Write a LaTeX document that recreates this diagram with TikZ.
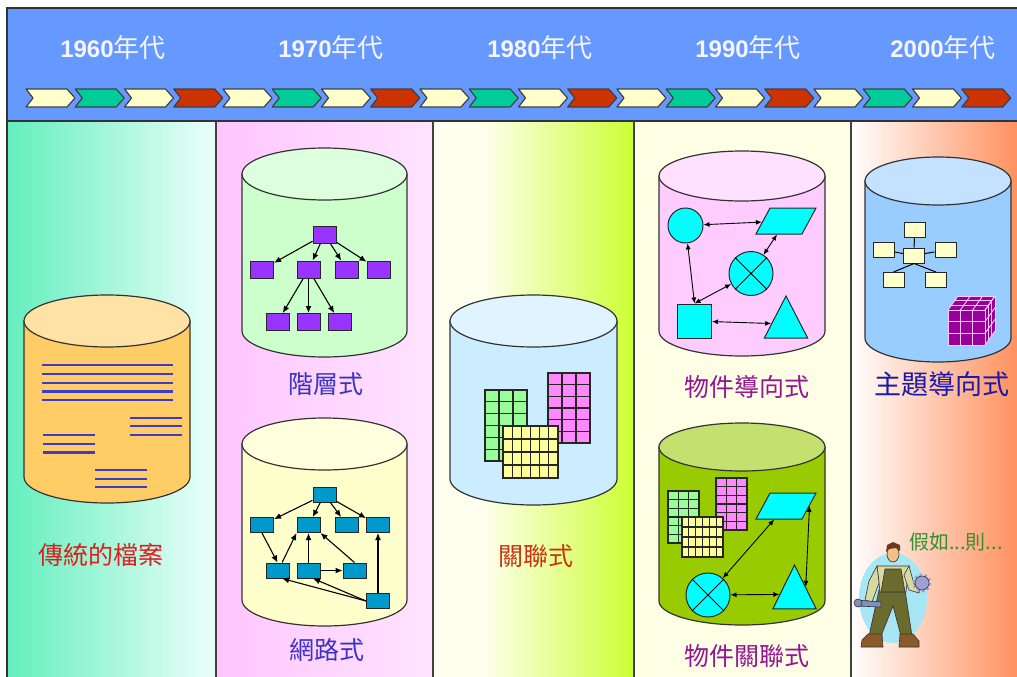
\documentclass[tikz,border=0pt]{standalone}
\usepackage{fontspec}
\setmainfont{Liberation Sans}
\newfontfamily\cjk{Noto Sans CJK TC}
\usetikzlibrary{arrows,arrows.meta,positioning,calc,shapes.geometric}

\definecolor{hdrblue}{RGB}{102,153,255}
\definecolor{eratext}{RGB}{245,245,255}
\definecolor{chcream}{RGB}{255,255,204}
\definecolor{chgreen}{RGB}{0,204,153}
\definecolor{chred}{RGB}{204,51,0}
\definecolor{bgaqua}{RGB}{100,238,190}
\definecolor{bgaquaw}{RGB}{236,255,250}
\definecolor{bgpink}{RGB}{255,198,255}
\definecolor{bgpinkw}{RGB}{255,228,255}
\definecolor{bglimew}{RGB}{255,255,240}
\definecolor{bglime}{RGB}{204,255,51}
\definecolor{bgcream}{RGB}{255,255,230}
\definecolor{bgorange}{RGB}{255,145,95}
\definecolor{docblue}{RGB}{60,60,204}
\definecolor{hpurple}{RGB}{153,51,255}
\definecolor{nteal}{RGB}{0,153,204}
\definecolor{ocyan}{RGB}{0,255,255}
\definecolor{sbeige}{RGB}{255,255,204}
\definecolor{cubepurple}{RGB}{153,0,153}
\definecolor{cubeline}{RGB}{255,200,255}
\definecolor{tgreen}{RGB}{153,255,153}
\definecolor{tpink}{RGB}{255,136,255}
\definecolor{tyellow}{RGB}{255,255,153}
\definecolor{lblred}{RGB}{225,30,30}
\definecolor{lblblue}{RGB}{60,50,200}
\definecolor{lblrust}{RGB}{204,50,20}
\definecolor{lblpurple}{RGB}{150,20,150}
\definecolor{lblnavy}{RGB}{25,25,170}
\definecolor{lblgreen}{RGB}{50,145,50}
\definecolor{blobcyan}{RGB}{166,230,245}
\definecolor{overall}{RGB}{107,107,46}
\definecolor{shirt}{RGB}{217,217,160}
\definecolor{skin}{RGB}{242,192,136}
\definecolor{hair}{RGB}{107,58,26}
\definecolor{boot}{RGB}{139,90,43}
\definecolor{wrench}{RGB}{128,144,192}
\definecolor{gearcol}{RGB}{160,160,210}
% drum bodies and lids
\definecolor{fileb}{RGB}{255,204,102}
\definecolor{filel}{RGB}{255,226,165}
\definecolor{hierb}{RGB}{204,255,204}
\definecolor{hierl}{RGB}{222,255,222}
\definecolor{netb}{RGB}{255,255,204}
\definecolor{netl}{RGB}{255,255,222}
\definecolor{relb}{RGB}{204,236,255}
\definecolor{rell}{RGB}{224,244,255}
\definecolor{oob}{RGB}{255,204,255}
\definecolor{ool}{RGB}{255,224,255}
\definecolor{orb}{RGB}{153,204,0}
\definecolor{orl}{RGB}{196,224,110}
\definecolor{subb}{RGB}{153,204,255}
\definecolor{subl}{RGB}{196,226,255}

% drum: centre x, lid y, base y, x radius, y radius, body, lid
\newcommand\drum[7]{%
  \filldraw[drumline,fill=#6] (#1-#4,#2) -- (#1-#4,#3)
     arc[start angle=180,end angle=0,x radius=#4,y radius=#5] -- (#1+#4,#2) -- cycle;
  \filldraw[drumline,fill=#7] (#1,#2) ellipse[x radius=#4,y radius=#5];}

% table: corner x, corner y, columns, rows, cell width, cell height, colour
\newcommand\celltable[7]{%
  \filldraw[cellline,fill=#7] (#1,#2) rectangle ++(#3*#5,#4*#6);
  \foreach \k in {1,...,#3} \draw[cellline] ({#1+\k*#5},#2) -- ++(0,#4*#6);
  \foreach \k in {1,...,#4} \draw[cellline] (#1,{#2+\k*#6}) -- ++(#3*#5,0);}

\newcommand\decadelabel[1]{\textbf{#1}{\cjk\fontsize{26}{28}\selectfont 年代}}

\begin{document}
\begin{tikzpicture}[x=1pt,y=-1pt,
   drumline/.style={draw=black!80,line width=1.2pt},
   cellline/.style={draw=black!85,line width=1.1pt},
   docline/.style={draw=docblue,line width=2.2pt},
   chev/.style={draw=black!75,line width=1.2pt,line join=round},
   hbox/.style={rectangle,draw=black!85,line width=1pt,fill=hpurple,minimum width=23,minimum height=17,inner sep=0pt},
   nbox/.style={hbox,fill=nteal,minimum height=15},
   sbox/.style={hbox,fill=sbeige,minimum width=21,minimum height=15},
   obj/.style={draw=black!85,line width=1pt,fill=ocyan,inner sep=0pt},
   tri/.style={obj,regular polygon,regular polygon sides=3,minimum size=50},
   para/.style={obj,rectangle,minimum width=46,minimum height=26,xslant=0.54},
   hlink/.style={-{Latex[length=7pt,width=6pt]},line width=1.1pt},
   twoway/.style={{Latex[length=6pt,width=5pt]}-{Latex[length=6pt,width=5pt]},line width=0.9pt},
   cubegrid/.style={draw=cubeline,line width=0.9pt},
   era/.style={inner sep=0pt,text=eratext,font=\fontsize{24}{28}\selectfont},
   tag/.style={inner sep=0pt,font=\cjk\fontsize{25}{30}\selectfont},
   manline/.style={draw=black!80,line width=0.6pt}]

\useasboundingbox (0,0) rectangle (1017,677);
\clip (0,0) rectangle (1017,677);
\fill[white] (0,0) rectangle (1017,677);

% column backgrounds
\shade[left color=bgaqua,right color=bgaquaw] (7,121) rectangle (216,690);
\shade[left color=bgpink,right color=bgpinkw] (216,121) rectangle (433,690);
\fill[bglimew] (433,121) rectangle (480,690);
\shade[left color=bglimew,right color=bglime] (480,121) rectangle (634,690);
\fill[bgcream] (634,121) rectangle (851,690);
\shade[left color=white,right color=bgorange] (851,121) rectangle (1017,690);

% header band and column rules
\filldraw[fill=hdrblue,draw=black!80,line width=1.2pt] (7,8) rectangle (1030,121);
\draw[black!80,line width=1.2pt] (7,121) -- (7,690);
\foreach \x in {216,433,634,851} \draw[black!75,line width=1.2pt] (\x,121) -- (\x,690);

\path (113,48) node (d60) [era] {\decadelabel{1960}}
      (331,48) node (d70) [era] {\decadelabel{1970}}
      (540,48) node (d80) [era] {\decadelabel{1980}}
      (748,48) node (d90) [era] {\decadelabel{1990}}
      (943,48) node (d00) [era] {\decadelabel{2000}};

% time line of chevrons
\foreach \c [count=\i from 0, evaluate=\i as \x using 26+49.25*\i] in
  {chcream,chgreen,chcream,chred,chcream,chgreen,chcream,chred,chcream,chgreen,
   chcream,chred,chcream,chgreen,chcream,chred,chcream,chgreen,chcream,chred}
  \filldraw[chev,fill=\c] (\x,89) -- ++(41,0) -- ++(8,9) -- ++(-8,9) -- ++(-41,0) -- ++(7,-9) -- cycle;

% flat files
\drum{107}{321}{477}{83}{26}{fileb}{filel}
\foreach \y in {365.3,374,382.7,391.4,400.1} \draw[docline] (42,\y) -- (173,\y);
\foreach \y in {417.7,426.3,435} \draw[docline] (130,\y) -- (182,\y);
\foreach \y in {435,443.7,452.5} \draw[docline] (43,\y) -- (95,\y);
\foreach \y in {470,478.7,487.3} \draw[docline] (95,\y) -- (147,\y);
\node (lf) [tag,text=lblred] at (101,555) {傳統的檔案};

% hierarchical
\drum{324.5}{174}{331}{82.5}{26}{hierb}{hierl}
\path (324.5,234.5) node (h0) [hbox] {}
      (262,269.5) node (h1) [hbox] {}
      (308.5,269.5) node (h2) [hbox] {}
      (347,269.5) node (h3) [hbox] {}
      (378.5,269.5) node (h4) [hbox] {}
      (277.5,322) node (h5) [hbox] {}
      (308.5,322) node (h6) [hbox] {}
      (339.5,322) node (h7) [hbox] {};
\foreach \t in {h1,h2,h3,h4} \draw[hlink] (h0) -- (\t);
\foreach \t in {h5,h6,h7} \draw[hlink] (h2) -- (\t);
\node (lh) [tag,text=lblblue] at (325.5,384) {階層式};

% network
\drum{324.5}{444}{600}{82.5}{26}{netb}{netl}
\path (324.5,494.5) node (n0) [nbox] {}
      (262,525) node (n1) [nbox] {}
      (308.5,525) node (n2) [nbox] {}
      (347,525) node (n3) [nbox] {}
      (378,525) node (n4) [nbox] {}
      (277.5,570.5) node (n5) [nbox] {}
      (308.5,570.5) node (n6) [nbox] {}
      (354.5,570.5) node (n7) [nbox] {}
      (378,601) node (n8) [nbox] {};
\foreach \t in {n1,n2,n3,n4} \draw[hlink] (n0) -- (\t);
\draw[hlink] (n1.south) -- (n5.north);
\draw[hlink] (n5.60) -- (n2.south west);
\draw[hlink] (n6) -- (n2);
\draw[hlink] (n6) -- (n7);
\draw[hlink] (n7.north) -- (n2.south east);
\draw[hlink] (n8.west) -- (n5.-60);
\draw[hlink] (n8.west) -- (n6.-60);
\draw[hlink] (n8) -- (n4);
\node (ln) [tag,text=lblblue] at (327,650) {網路式};

% relational
\drum{533.5}{321}{479}{83.5}{26}{relb}{rell}
\celltable{485}{390}{3}{6}{14}{11.83}{tgreen}
\celltable{548}{373}{3}{6}{14}{11.67}{tpink}
\celltable{503}{426}{6}{4}{9.17}{13}{tyellow}
\node (lr) [tag,text=lblrust] at (536,556) {關聯式};

% object oriented
\drum{742}{176}{331}{83}{25}{oob}{ool}
\path (685.5,225.5) node (o1) [obj,circle,minimum size=35] {}
      (786,221) node (o2) [para] {}
      (751,273.5) node (o3) [obj,circle,minimum size=44] {}
      (694.5,321) node (o4) [obj,rectangle,minimum size=34] {}
      (786,324) node (o5) [tri,yscale=1.12] {};
\draw[line width=1pt] (o3.45) -- (o3.225) (o3.135) -- (o3.315);
\draw[twoway] (o1) -- (o2);
\draw[twoway] (o2) -- (o3);
\draw[twoway] (o1) -- (o4.north);
\draw[twoway] (o4.north) -- (o3);
\draw[twoway] (o4) -- (o5);
\node (lo) [tag,text=lblpurple] at (747,387) {物件導向式};

% object relational
\drum{742}{447}{601}{83}{24}{orb}{orl}
\celltable{668}{491}{3}{6}{10.33}{8.67}{tgreen}
\celltable{716}{478}{3}{6}{10.33}{8.67}{tpink}
\celltable{682}{517}{6}{4}{6.83}{10}{tyellow}
\path (786,506) node (r1) [para] {}
      (708,595) node (r2) [obj,circle,minimum size=44] {}
      (794.5,594.3) node (r3) [tri,yscale=1.17] {};
\draw[line width=1pt] (r2.45) -- (r2.225) (r2.135) -- (r2.315);
\draw[twoway] (r1) -- (r2);
\draw[twoway] (r1.east) -- (r3.side 3);
\draw[twoway] (r2) -- (r3);
\node (lor) [tag,text=lblpurple] at (747,656) {物件關聯式};

% subject oriented
\drum{938}{181}{338}{73}{24}{subb}{subl}
\path (914,255.5) node (s0) [sbox] {}
      (914.5,230) node (s1) [sbox] {}
      (883.5,250) node (s2) [sbox] {}
      (945.5,250) node (s3) [sbox] {}
      (893.5,280) node (s4) [sbox] {}
      (936,280) node (s5) [sbox] {};
\draw[line width=1pt] (s1) -- (s0) (s2) -- (s0) (s3) -- (s0)
      (s0.south) -- (s4.north) (s0.south) -- (s5.north);
\begin{scope}[shift={(948,310)}]
  \fill[cubepurple] (0,0) -- (0,35) -- (37,35) -- (47,21) -- (47,-14) -- (10,-14) -- cycle;
  \foreach \k in {0,1,2,3} {
    \draw[cubegrid] ({\k*37/3},0) -- ({\k*37/3},35);
    \draw[cubegrid] (0,{\k*35/3}) -- (37,{\k*35/3});
    \draw[cubegrid] ({\k*37/3},0) -- ++(10,-14);
    \draw[cubegrid] ({\k*10/3},{-\k*14/3}) -- ++(37,0);
    \draw[cubegrid] ({37+\k*10/3},{-\k*14/3}) -- ++(0,35);
    \draw[cubegrid] (37,{\k*35/3}) -- ++(10,-14);
  }
\end{scope}
\node (lt) [tag,text=lblnavy,font=\cjk\fontsize{27}{30}\selectfont] at (942,384) {主題導向式};

% repair man
\fill[blobcyan] (893,598) ellipse[x radius=34,y radius=45];
\filldraw[manline,fill=overall] (879,590) -- (905,590) -- (912,636) -- (901,636) -- (893,606) -- (881,636) -- (869,636) -- cycle;
\filldraw[manline,fill=boot] (868,634) -- (882,634) -- (883,647) -- (861,647) -- (862,640) -- cycle;
\filldraw[manline,fill=boot] (900,634) -- (913,634) -- (919,641) -- (919,647) -- (899,647) -- cycle;
\filldraw[manline,fill=shirt] (877,566) -- (909,566) -- (906,592) -- (880,592) -- cycle;
\filldraw[manline,fill=overall] (885,569) -- (901,569) -- (905,592) -- (881,592) -- cycle;
\filldraw[manline,fill=shirt] (877,566) -- (869,581) -- (865,600) -- (872,602) -- (879,583) -- cycle;
\filldraw[manline,fill=wrench] (856,600) -- (881,602) -- (881,607) -- (856,606) -- cycle;
\filldraw[manline,fill=wrench] (858,603) circle[radius=4];
\filldraw[manline,fill=shirt] (909,566) -- (914,584) -- (921,587) -- (919,593) -- (909,590) -- (904,575) -- cycle;
\draw[gearcol,line width=3pt,dash pattern=on 2.5pt off 2.5pt] (922,583) circle[radius=8];
\filldraw[manline,fill=gearcol] (922,583) circle[radius=7];
\filldraw[manline,fill=skin] (893,554) ellipse[x radius=6,y radius=8];
\fill[hair] (886,552) -- (887,545) -- (893,542) -- (900,545) -- (900,551) -- (896,548) -- (889,549) -- cycle;
\node (lq) [anchor=west,inner sep=0pt,text=lblgreen,font=\cjk\fontsize{20}{24}\selectfont] at (909,542) {假如...則...};

\end{tikzpicture}
\end{document}
